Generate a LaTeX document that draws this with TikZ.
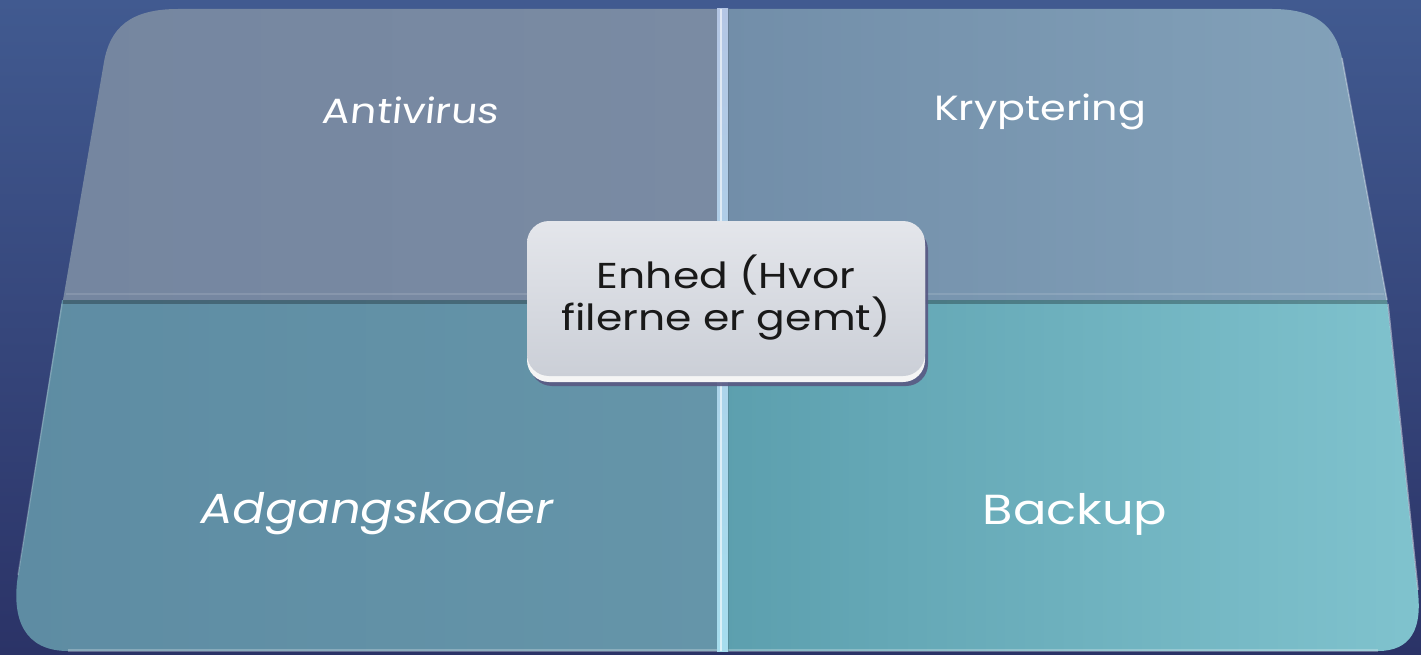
\documentclass[tikz,border=0pt]{standalone}
\usepackage{fontspec}
\setmainfont{Poppins}[FakeStretch=1.18]
\newfontfamily\slantfont[FakeSlant=0.18,FakeStretch=1.14]{Poppins}
\newfontfamily\lightslant[FakeSlant=0.10,FakeStretch=1.18]{Poppins}
\usetikzlibrary{shadings}
\definecolor{bgtop}{HTML}{415A90}
\definecolor{bgbot}{HTML}{2B3367}
\definecolor{tlA}{HTML}{7586A0}
\definecolor{tlB}{HTML}{7A8BA3}
\definecolor{trA}{HTML}{728EA9}
\definecolor{trB}{HTML}{83A2BA}
\definecolor{blA}{HTML}{5E8CA3}
\definecolor{blB}{HTML}{6595A9}
\definecolor{brA}{HTML}{5C9FAE}
\definecolor{brB}{HTML}{80C3CE}
\definecolor{divtop}{HTML}{B4C6E4}
\definecolor{divbot}{HTML}{A6DDEE}
\definecolor{boxtop}{HTML}{E4E6EB}
\definecolor{boxbot}{HTML}{CBCFD7}
\tikzset{
  tiletext/.style={text=white, font=\fontsize{35}{40}\selectfont, inner sep=0pt},
  bigtext/.style={text=white, font=\fontsize{42}{48}\selectfont, inner sep=0pt},
  centertext/.style={text=black!90, font=\fontsize{36}{42}\selectfont, align=center, inner sep=0pt},
}
\begin{document}
\begin{tikzpicture}[x=1pt,y=-1pt]
\useasboundingbox (0,0) rectangle (1421,655);
% background
\shade[top color=bgtop, bottom color=bgbot] (0,0) rectangle (1421,655);
% bottom tiles
\shade[shading=axis, left color=blA, right color=blB]
  (720,300) -- (62,300) -- (18,575) .. controls (11,620) and (25,651) .. (68,651) -- (720,651) -- cycle;
\shade[shading=axis, shading angle=-60, left color=brA, right color=brB]
  (722,300) -- (1387,300) -- (1417,585) .. controls (1424,630) and (1410,651) .. (1378,651) -- (722,651) -- cycle;
% top tiles
\shade[shading=axis, left color=tlA, right color=tlB]
  (720,9) -- (178,9) .. controls (130,9) and (110,28) .. (104,62) -- (63,300) -- (720,300) -- cycle;
\shade[shading=axis, shading angle=-70, left color=trA, right color=trB]
  (724,9) -- (1272,9) .. controls (1315,9) and (1335,25) .. (1342,58) -- (1387,300) -- (724,300) -- cycle;
% bevel / shadow lines
\draw[line width=2pt, color=white, opacity=0.12] (66,294) -- (1384,294);
\draw[line width=4pt, color=black, opacity=0.28] (63,302) -- (1387,302);
\draw[line width=1.5pt, color=white, opacity=0.35] (1342,58) -- (1387,300);
\draw[line width=1.5pt, color=white, opacity=0.45] (1388,304) -- (1418,590);
\draw[line width=3pt, color=white, opacity=0.25] (68,650) -- (1378,650);
\draw[line width=1.5pt, color=white, opacity=0.20] (18,575) -- (62,304);
% vertical divider
\shade[top color=divtop, bottom color=divbot] (717,9) rectangle (728,651);
\draw[line width=2pt, color=white, opacity=0.6] (721,9) -- (721,651);
\draw[line width=1pt, color=black, opacity=0.15] (728,9) -- (728,651);
% tile labels
\node[tiletext] (antivirus) at (410,110) {\lightslant Antivirus};
\node[tiletext] (kryptering) at (1040,112) {Kryptering};
\node[bigtext] (adgang) at (375,514) {\slantfont Adgangskoder};
\node[bigtext] (backup) at (1075,514) {Backup};
% center box
\fill[color=black!45!blue!30!gray, opacity=0.9, rounded corners=22pt] (530,228) rectangle (928,386);
\fill[color=white!92!gray, rounded corners=22pt] (527,224) rectangle (925,382);
\shade[top color=boxtop, bottom color=boxbot, rounded corners=22pt] (527,221) rectangle (925,376);
\node[centertext] (enhed) at (726,298) {Enhed (Hvor\\filerne er gemt)};
\end{tikzpicture}
\end{document}
